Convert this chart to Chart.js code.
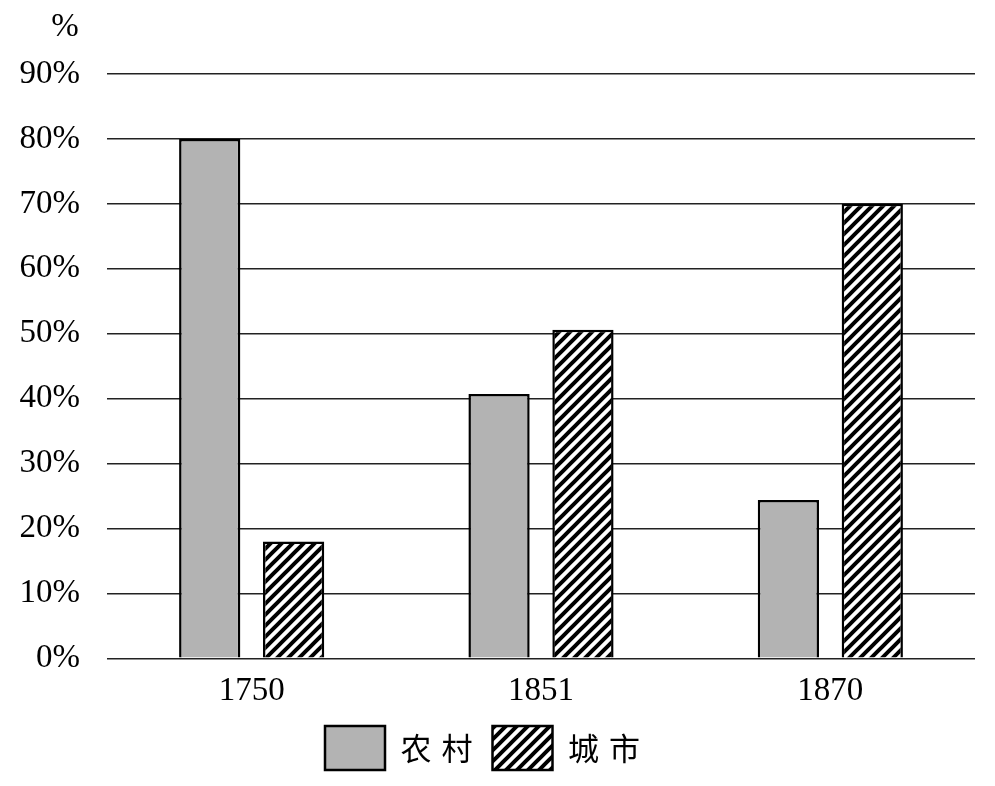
<!DOCTYPE html>
<html>
<head>
<meta charset="utf-8">
<script src="https://cdn.jsdelivr.net/npm/chart.js@4/dist/chart.umd.min.js"></script>
<style>
  body { margin: 0; background: #fff; }
  #wrap { width: 995px; height: 786px; }
</style>
</head>
<body>
<div id="wrap"><canvas id="chart" width="995" height="786"></canvas></div>
<script>
const years = ['1750', '1851', '1870'];
const rural = [80, 40.7, 24.4];
const urban = [18, 50.6, 70];
const seriesNames = ['农村', '城市'];

// 斜线填充
function makeHatch() {
  const s = 11;
  const c = document.createElement('canvas');
  c.width = s; c.height = s;
  const g = c.getContext('2d');
  g.fillStyle = '#fff';
  g.fillRect(0, 0, s, s);
  g.strokeStyle = '#000';
  g.lineWidth = 4;
  g.beginPath();
  g.moveTo(-s / 2, s / 2); g.lineTo(s / 2, -s / 2);
  g.moveTo(0, s); g.lineTo(s, 0);
  g.moveTo(s / 2, s * 1.5); g.lineTo(s * 1.5, s / 2);
  g.stroke();
  return g.createPattern(c, 'repeat');
}
const hatch = makeHatch();

// 左上角的 "%"
const unitLabel = {
  id: 'unitLabel',
  afterDraw(chart) {
    const ctx = chart.ctx;
    ctx.save();
    ctx.font = '33px "Liberation Serif"';
    ctx.fillStyle = '#000';
    ctx.textAlign = 'center';
    ctx.textBaseline = 'middle';
    ctx.fillText('%', 65, 27);
    ctx.restore();
  }
};

// 图例文字加字距
const legendSpacing = {
  id: 'legendSpacing',
  afterInit(chart) {
    const lg = chart.legend;
    if (!lg) return;
    ['fit', 'draw'].forEach(fn => {
      const orig = lg[fn].bind(lg);
      lg[fn] = function () {
        chart.ctx.letterSpacing = '10px';
        orig();
        chart.ctx.letterSpacing = '0px';
      };
    });
  }
};

new Chart(document.getElementById('chart'), {
  type: 'bar',
  data: {
    labels: years,
    datasets: [
      { label: seriesNames[0], data: rural, backgroundColor: '#b3b3b3', borderColor: '#000', borderWidth: 2.5 },
      { label: seriesNames[1], data: urban, backgroundColor: hatch, borderColor: '#000', borderWidth: 2.5 }
    ]
  },
  options: {
    responsive: false,
    animation: false,
    layout: { padding: { top: 74, right: 20, left: 0, bottom: 6 } },
    datasets: { bar: { categoryPercentage: 0.58, barPercentage: 0.73 } },
    plugins: {
      tooltip: { enabled: false },
      legend: {
        position: 'bottom',
        labels: {
          boxWidth: 60,
          boxHeight: 44,
          padding: 10,
          color: '#000',
          font: { family: '"Noto Sans CJK SC"', size: 31 },
          generateLabels(chart) {
            return chart.data.datasets.map((ds, i) => ({
              text: ds.label,
              fillStyle: ds.backgroundColor,
              strokeStyle: '#000',
              lineWidth: 2.5,
              datasetIndex: i
            }));
          }
        }
      }
    },
    scales: {
      x: {
        grid: { display: false },
        border: { display: false },
        ticks: { color: '#000', font: { family: '"Liberation Serif"', size: 33 }, padding: 5 }
      },
      y: {
        min: 0,
        max: 90,
        border: { display: false },
        grid: { color: '#222', lineWidth: 1.6, drawTicks: false },
        afterFit(scale) { scale.width = 107; },
        ticks: {
          stepSize: 10,
          padding: 27,
          color: '#000',
          font: { family: '"Liberation Serif"', size: 33 },
          callback: v => v + '%'
        }
      }
    }
  },
  plugins: [unitLabel, legendSpacing]
});
</script>
</body>
</html>
